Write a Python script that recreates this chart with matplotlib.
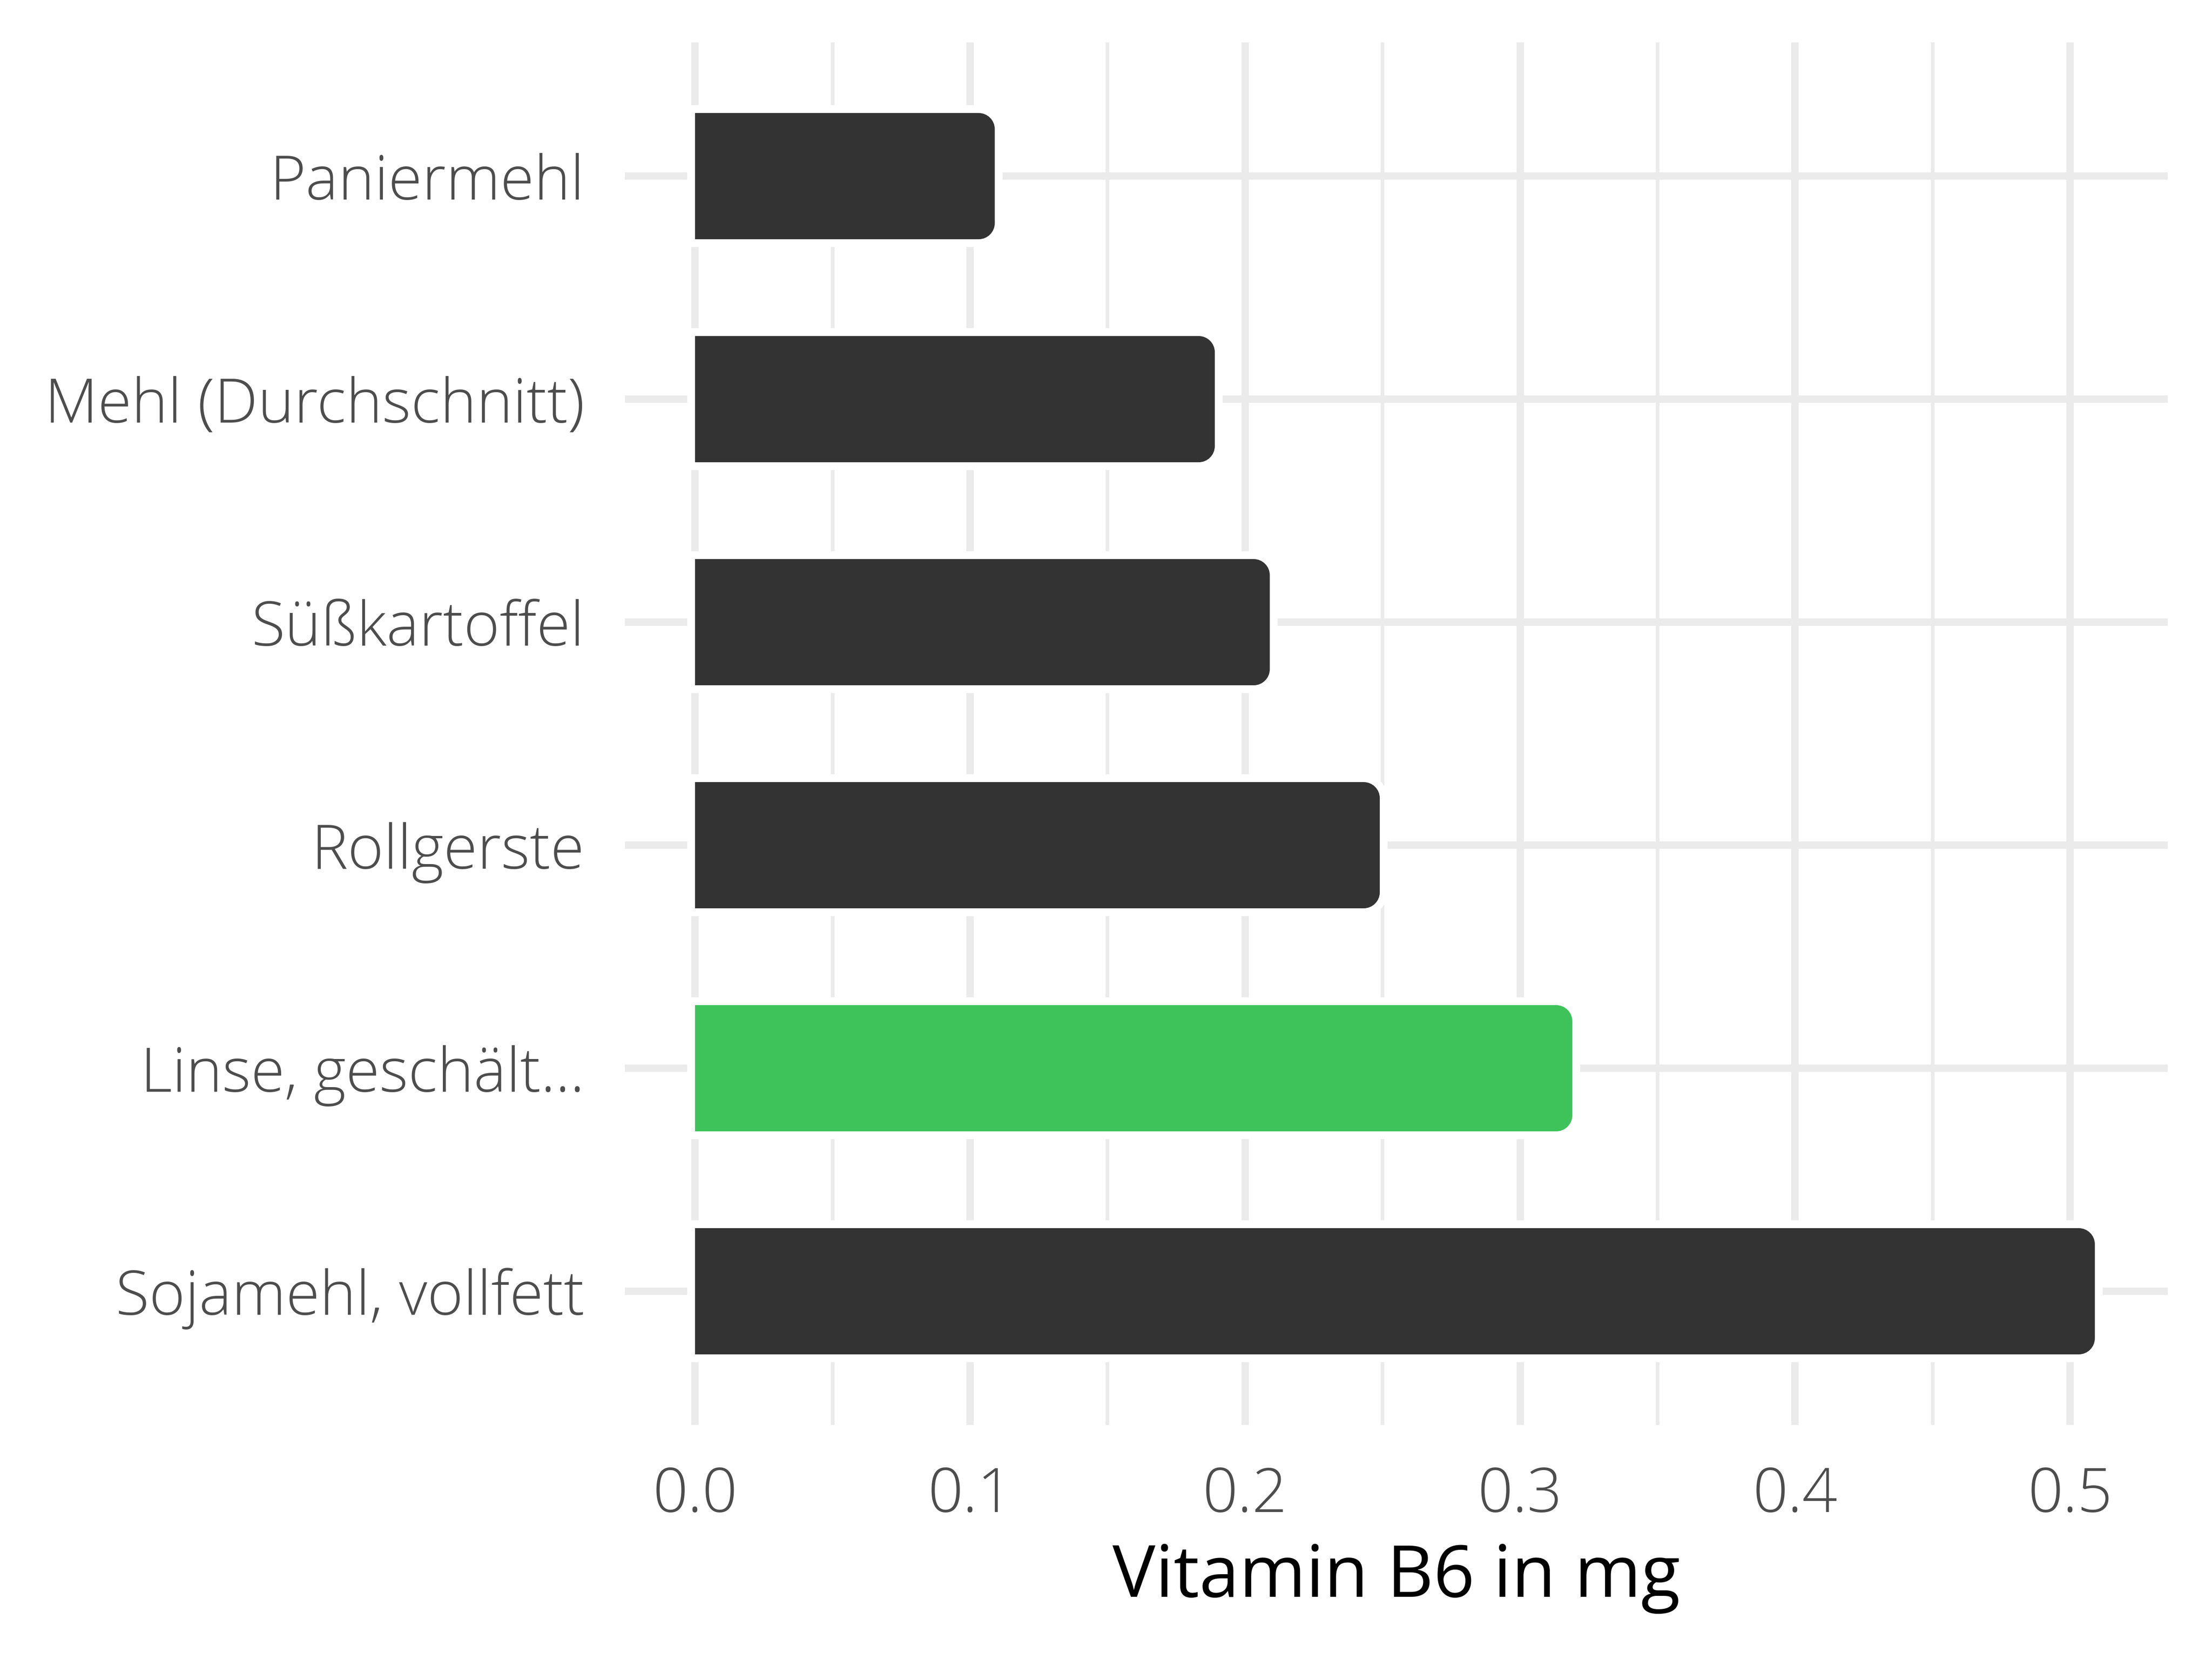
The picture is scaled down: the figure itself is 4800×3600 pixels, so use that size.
import numpy as np
import matplotlib
matplotlib.use('Agg')
import matplotlib.pyplot as plt
from matplotlib.path import Path
from matplotlib.patches import PathPatch

plt.rcParams['font.family'] = ['Open Sans', 'DejaVu Sans']
plt.rcParams['font.weight'] = 'light'

# data (top to bottom as drawn)
foods = ['Paniermehl', 'Mehl (Durchschnitt)', 'Süßkartoffel', 'Rollgerste',
         'Linse, geschält...', 'Sojamehl, vollfett']
b6_mg = [0.11, 0.19, 0.21, 0.25, 0.32, 0.51]
highlight = 'Linse, geschält...'
x_ticks = [0.0, 0.1, 0.2, 0.3, 0.4, 0.5]
x_label = 'Vitamin B6 in mg'

DARK = '#333333'
GREEN = '#3EC35A'
GRID = '#EBEBEB'

fig = plt.figure(figsize=(16, 12), dpi=300)
ax = fig.add_axes([0.2825, 0.141, 0.6975, 0.8335])

n = len(foods)
ypos = np.arange(n)[::-1]  # first item on top
xmax = max(b6_mg)
ax.set_xlim(-0.05 * xmax, xmax * 1.05)
ax.set_ylim(-0.6, n - 1 + 0.6)


def bar_path(x1, yc, h, rx, ry):
    # left corners square, right corners rounded
    k = 0.5523
    y0, y1 = yc - h / 2, yc + h / 2
    verts = [(0, y0), (x1 - rx, y0),
             (x1 - rx + k * rx, y0), (x1, y0 + ry - k * ry), (x1, y0 + ry),
             (x1, y1 - ry),
             (x1, y1 - ry + k * ry), (x1 - rx + k * rx, y1), (x1 - rx, y1),
             (0, y1), (0, y0)]
    codes = [Path.MOVETO, Path.LINETO,
             Path.CURVE4, Path.CURVE4, Path.CURVE4,
             Path.LINETO,
             Path.CURVE4, Path.CURVE4, Path.CURVE4,
             Path.LINETO, Path.CLOSEPOLY]
    return Path(verts, codes)


fig.canvas.draw()
# convert pixel sizes to data units
inv = ax.transData.inverted()
p0 = inv.transform((0, 0))
p1 = inv.transform((35, 35))
rx, ry = p1[0] - p0[0], p1[1] - p0[1]
trim = (inv.transform((6, 0))[0] - p0[0])  # outline eats a little of the end
halo_pt = 34 / 300 * 72

for food, val, y in zip(foods, b6_mg, ypos):
    col = GREEN if food == highlight else DARK
    path = bar_path(val - trim, y, 0.566, rx, ry)
    ax.add_patch(PathPatch(path, facecolor='white', edgecolor='white',
                           linewidth=halo_pt, zorder=2))
    ax.add_patch(PathPatch(path, facecolor=col, edgecolor='none', zorder=3))

ax.set_yticks(ypos)
ax.set_yticklabels(foods)
ax.set_xticks(x_ticks)
ax.set_xticklabels(['%.1f' % t for t in x_ticks])
ax.set_xticks(np.arange(0.05, xmax * 1.05, 0.1), minor=True)

ax.grid(True, which='major', color=GRID, linewidth=16 / 300 * 72, zorder=0)
ax.grid(True, which='minor', axis='x', color=GRID, linewidth=8 / 300 * 72, zorder=0)
ax.set_axisbelow(True)
for s in ax.spines.values():
    s.set_visible(False)
ax.tick_params(axis='both', which='both', length=0, colors='#4D4D4D', labelsize=32)
ax.tick_params(axis='y', pad=21)
ax.tick_params(axis='x', pad=21)
ax.set_xlabel(x_label, fontsize=37.5, color='black', labelpad=8)

fig.savefig('out.png', dpi=300, facecolor='white')
